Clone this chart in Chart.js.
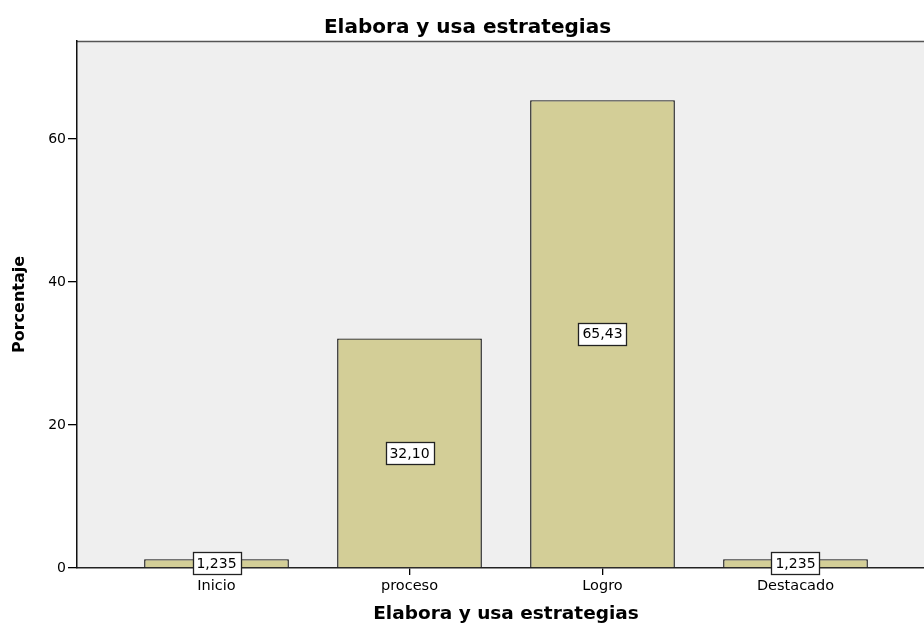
<!DOCTYPE html>
<html>
<head>
<meta charset="utf-8">
<script src="https://cdn.jsdelivr.net/npm/chart.js@4"></script>
<style>
html,body{margin:0;padding:0;background:#fff;overflow:hidden;}
#wrap{width:935px;height:625px;}
</style>
</head>
<body>
<div id="wrap"><canvas id="c" width="935" height="625"></canvas></div>
<script>
const chartTitle = 'Elabora y usa estrategias';
const xTitle = 'Elabora y usa estrategias';
const yTitle = 'Porcentaje';
const categories = ['Inicio', 'proceso', 'Logro', 'Destacado'];
const percentages = [1.235, 32.10, 65.43, 1.235];
const yTicks = [0, 20, 40, 60];

const FONT = '"DejaVu Sans", Verdana, sans-serif';

const plotFrame = {
  id: 'plotFrame',
  beforeDraw(chart) {
    const {ctx, chartArea: a} = chart;
    ctx.save();
    ctx.fillStyle = '#efefef';
    ctx.fillRect(a.left, a.top, a.right - a.left, a.bottom - a.top);
    ctx.strokeStyle = '#555';
    ctx.lineWidth = 1.5;
    ctx.beginPath();
    ctx.moveTo(a.left, a.top + 0.5);
    ctx.lineTo(a.right, a.top + 0.5);
    ctx.moveTo(a.right - 0.5, a.top);
    ctx.lineTo(a.right - 0.5, a.bottom);
    ctx.stroke();
    ctx.restore();
  }
};

const valueBoxes = {
  id: 'valueBoxes',
  afterDatasetsDraw(chart) {
    const {ctx} = chart;
    const meta = chart.getDatasetMeta(0);
    ctx.save();
    ctx.font = '14px ' + FONT;
    ctx.textAlign = 'center';
    ctx.textBaseline = 'middle';
    meta.data.forEach((bar, i) => {
      const txt = percentages[i].toPrecision(4).replace('.', ',');
      const cx = bar.x;
      const cy = (bar.y + bar.base) / 2;
      const w = Math.round(ctx.measureText(txt).width + 8);
      const h = 22;
      const x0 = Math.round(cx - w / 2) + 0.5;
      const y0 = Math.round(cy - h / 2) + 0.5;
      ctx.fillStyle = '#fff';
      ctx.fillRect(x0, y0, w, h);
      ctx.strokeStyle = '#222';
      ctx.lineWidth = 1.3;
      ctx.strokeRect(x0, y0, w, h);
      ctx.fillStyle = '#000';
      ctx.fillText(txt, cx, cy + 1);
    });
    ctx.restore();
  }
};

new Chart(document.getElementById('c'), {
  type: 'bar',
  data: {
    datasets: [{
      data: categories.map((c, i) => ({x: i, y: percentages[i]})),
      backgroundColor: '#d3ce97',
      borderColor: '#151515',
      borderWidth: 1.4,
      categoryPercentage: 1,
      barPercentage: 0.75
    }]
  },
  options: {
    responsive: false,
    animation: false,
    devicePixelRatio: 1,
    layout: {padding: 0},
    plugins: {
      legend: {display: false},
      tooltip: {enabled: false},
      title: {
        display: true,
        text: chartTitle,
        color: '#000',
        font: {family: FONT, size: 20, weight: 'bold', lineHeight: 1.2},
        padding: {top: 16, bottom: 1}
      }
    },
    scales: {
      x: {
        type: 'linear',
        offset: false,
        min: -0.7228,
        max: 3.7228,
        afterBuildTicks(scale) {
          scale.ticks = categories.map((c, i) => ({value: i}));
        },
        afterFit(scale) { scale.height = 57; },
        ticks: {
          autoSkip: false,
          maxRotation: 0,
          color: '#000',
          padding: 3,
          font: {family: FONT, size: 14.5},
          callback: (v) => categories[v]
        },
        grid: {
          display: true,
          offset: false,
          drawOnChartArea: false,
          drawTicks: true,
          tickLength: 7,
          color: '#000',
          lineWidth: 1.3
        },
        border: {display: true, color: '#222', width: 1.5},
        title: {
          display: true,
          text: xTitle,
          color: '#000',
          font: {family: FONT, size: 18.5, weight: 'bold', lineHeight: 1.2},
          padding: {top: 0, bottom: 0}
        }
      },
      y: {
        min: 0,
        max: 73.7,
        afterBuildTicks(scale) {
          scale.ticks = yTicks.map(v => ({value: v}));
        },
        afterFit(scale) { scale.width = 77; },
        ticks: {
          color: '#000',
          padding: 2,
          font: {family: FONT, size: 14}
        },
        grid: {
          display: true,
          drawOnChartArea: false,
          drawTicks: true,
          tickLength: 9,
          color: '#000',
          lineWidth: 1.3
        },
        border: {display: true, color: '#111', width: 1.5},
        title: {
          display: true,
          text: yTitle,
          color: '#000',
          font: {family: FONT, size: 16, weight: 'bold', lineHeight: 1.2},
          padding: {top: 10, bottom: 0}
        }
      }
    }
  },
  plugins: [plotFrame, valueBoxes]
});
</script>
</body>
</html>
